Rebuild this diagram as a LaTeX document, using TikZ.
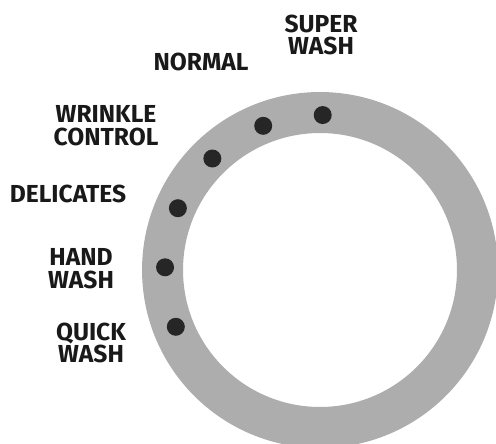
\documentclass[tikz,border=0pt]{standalone}
\usepackage{fontspec}
\setmainfont{Fira Sans}
\usepackage{tikz}
\usepackage{xcolor}
\usetikzlibrary{positioning}

\begin{document}
\begin{tikzpicture}[x=0.02cm, y=0.02cm,
    dot/.style={circle, fill=black!85, minimum size=0.36cm, inner sep=0pt},
    cyclelbl/.style={font=\fontsize{14}{13}\selectfont\bfseries, align=center, text=black!90, inner sep=0pt}]
    \useasboundingbox (0,0) rectangle (496,443);
    \clip (0,0) rectangle (496,443);
    \coordinate (C) at (320,173);
    \fill[black!32, even odd rule] (C) circle (3.56cm) (C) circle (2.74cm);

    \node[dot] (Super) at ([shift={(89:3.1cm)}]C) {};
    \node[dot] (Normal) at ([shift={(111.5:3.1cm)}]C) {};
    \node[dot] (Wrinkle) at ([shift={(134:3.1cm)}]C) {};
    \node[dot] (Delicate) at ([shift={(156.5:3.1cm)}]C) {};
    \node[dot] (Hand) at ([shift={(179:3.1cm)}]C) {};
    \node[dot] (Quick) at ([shift={(201.5:3.1cm)}]C) {};

    \node[cyclelbl] (SuperL) at (321,408) {SUPER\\WASH};
    \node[cyclelbl] (NormalL) at (201,381) {NORMAL};
    \node[cyclelbl] (WrinkleL) at (106,317) {WRINKLE\\CONTROL};
    \node[cyclelbl] (DelicateL) at (68,249) {DELICATES};
    \node[cyclelbl] (HandL) at (81,174) {HAND\\WASH};
    \node[cyclelbl] (QuickL) at (91,100) {QUICK\\WASH};
\end{tikzpicture}
\end{document}
